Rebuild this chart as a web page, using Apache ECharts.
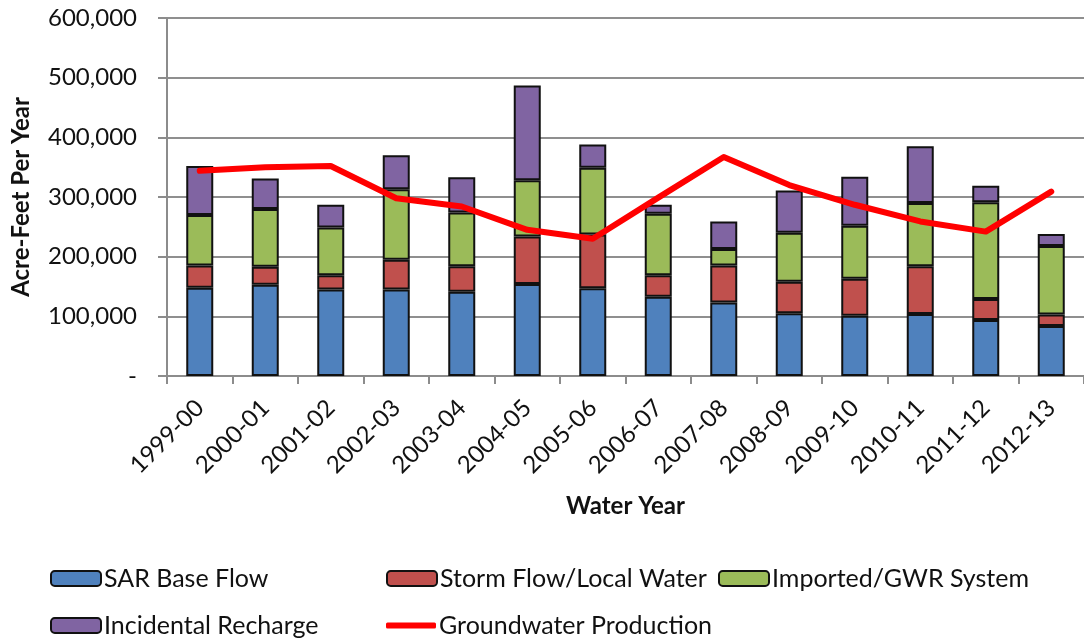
<!DOCTYPE html>
<html>
<head>
<meta charset="utf-8">
<script src="https://cdn.jsdelivr.net/npm/echarts@6/dist/echarts.min.js"></script>
<style>
  html, body { margin: 0; padding: 0; background: #fff; }
  #chart { width: 1084px; height: 639px; }
</style>
</head>
<body>
<div id="chart"></div>
<script>
// Water years on the category axis
const waterYears = ['1999-00', '2000-01', '2001-02', '2002-03', '2003-04', '2004-05', '2005-06',
  '2006-07', '2007-08', '2008-09', '2009-10', '2010-11', '2011-12', '2012-13'];

// Recharge components, acre-feet per year (stacked)
const sarBaseFlow = [148000, 153000, 145000, 145000, 141000, 154000, 147000,
  133000, 123000, 105000, 101000, 104000, 94000, 84000];
const stormFlowLocal = [37000, 30000, 24000, 50000, 43000, 80000, 90000,
  36000, 62000, 53000, 62000, 80000, 35000, 19000];
const importedGwr = [85000, 97000, 80000, 118000, 90000, 94000, 112000,
  103000, 28000, 82000, 89000, 106000, 162000, 115000];
const incidentalRecharge = [82000, 51000, 38000, 57000, 59000, 159000, 39000,
  15000, 46000, 71000, 82000, 95000, 28000, 20000];

// Total groundwater pumped each year
const groundwaterProduction = [344000, 350000, 352000, 298000, 284000, 245000, 230000,
  299000, 367000, 320000, 287000, 259000, 242000, 309000];

// Value-axis ticks
const yTicks = [0, 100000, 200000, 300000, 400000, 500000, 600000];

const FONT = 'Lato, "Open Sans", sans-serif';
const AXIS_GREY = '#8c8c8c';

const chart = echarts.init(document.getElementById('chart'), null, { renderer: 'canvas' });

function stackBar(name, data, color) {
  return {
    name: name,
    type: 'bar',
    stack: 'recharge',
    data: data,
    barWidth: 27,
    itemStyle: { color: color, borderColor: '#111', borderWidth: 2 },
    emphasis: { disabled: true }
  };
}

function legendAt(name, left, top, extra) {
  return Object.assign({
    data: [name],
    left: left,
    top: top,
    padding: 0,
    itemWidth: 50,
    itemHeight: 15,
    itemGap: 0,
    selectedMode: false,
    textStyle: { fontFamily: FONT, fontSize: 25, color: '#111', padding: [0, 0, 0, -2] }
  }, extra || {});
}

chart.setOption({
  animation: false,
  backgroundColor: '#ffffff',
  grid: { left: 167, right: -10, top: 18, bottom: 263, containLabel: false },
  legend: [
    legendAt('SAR Base Flow', 50, 566),
    legendAt('Storm Flow/Local Water', 386, 566),
    legendAt('Imported/GWR System', 718, 566),
    legendAt('Incidental Recharge', 50, 613),
    legendAt('Groundwater Production', 386, 613, {
      data: [{ name: 'Groundwater Production', icon: 'roundRect' }],
      itemHeight: 6,
      itemStyle: { color: '#ff0000', borderWidth: 0 }
    })
  ],
  xAxis: {
    type: 'category',
    data: waterYears,
    boundaryGap: true,
    name: 'Water Year',
    nameLocation: 'middle',
    nameGap: 118,
    nameTextStyle: { fontFamily: FONT, fontSize: 24, fontWeight: 'bold', color: '#111' },
    axisLine: { lineStyle: { color: AXIS_GREY, width: 2 } },
    axisTick: { show: true, length: 8, lineStyle: { color: AXIS_GREY, width: 2 } },
    axisLabel: {
      rotate: 45,
      margin: 28,
      fontFamily: FONT,
      fontSize: 24,
      color: '#111'
    },
    splitLine: { show: false }
  },
  yAxis: {
    type: 'value',
    min: yTicks[0],
    max: yTicks[yTicks.length - 1],
    interval: yTicks[1] - yTicks[0],
    name: 'Acre-Feet Per Year',
    nameLocation: 'middle',
    nameGap: 134,
    nameRotate: 90,
    nameTextStyle: { fontFamily: FONT, fontSize: 24, fontWeight: 'bold', color: '#111' },
    axisLine: { show: true, lineStyle: { color: AXIS_GREY, width: 2 } },
    axisTick: { show: true, length: 9, lineStyle: { color: AXIS_GREY, width: 2 } },
    axisLabel: {
      margin: 30,
      fontFamily: FONT,
      fontSize: 24,
      color: '#111',
      formatter: function (v) {
        return v === 0 ? '-' : v.toLocaleString('en-US');
      }
    },
    splitLine: { show: true, lineStyle: { color: '#8f8f8f', width: 2 } }
  },
  series: [
    stackBar('SAR Base Flow', sarBaseFlow, '#4f81bd'),
    stackBar('Storm Flow/Local Water', stormFlowLocal, '#c0504d'),
    stackBar('Imported/GWR System', importedGwr, '#9bbb59'),
    stackBar('Incidental Recharge', incidentalRecharge, '#8064a2'),
    {
      name: 'Groundwater Production',
      type: 'line',
      data: groundwaterProduction,
      symbol: 'none',
      smooth: false,
      z: 5,
      lineStyle: { color: '#ff0000', width: 6, cap: 'round', join: 'round' },
      itemStyle: { color: '#ff0000' },
      emphasis: { disabled: true }
    }
  ]
});
</script>
</body>
</html>
